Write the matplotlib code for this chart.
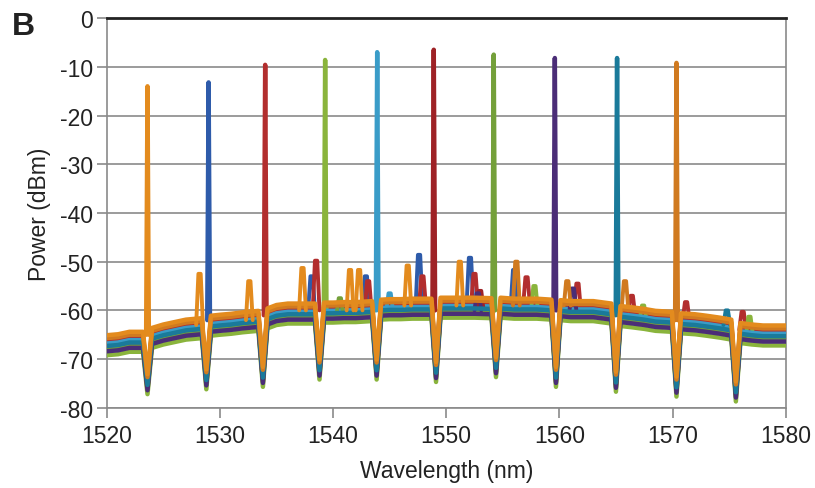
import matplotlib.pyplot as plt
import numpy as np

plt.rcParams['font.family'] = ['Liberation Sans', 'DejaVu Sans']
plt.rcParams['axes.unicode_minus'] = False

# shared noise floor of the spectra (nm, dBm), notches included
floor_wl = [1520, 1521, 1522, 1523.2, 1523.6, 1524.0, 1525, 1526, 1527, 1528.4,
            1528.8, 1529.2, 1530, 1531, 1532, 1533.4, 1533.8, 1534.2, 1535, 1536,
            1537, 1538.4, 1538.8, 1539.2, 1540, 1541, 1542, 1543.45, 1543.85, 1544.25,
            1545, 1546, 1547, 1548.7, 1549.1, 1549.5, 1550.5, 1551.5, 1552.5, 1554.0,
            1554.4, 1554.8, 1556, 1557, 1558, 1559.3, 1559.7, 1560.1, 1561, 1562,
            1563, 1564.6, 1565.0, 1565.4, 1566.5, 1567.5, 1568.5, 1569.95, 1570.35, 1570.75,
            1572, 1573, 1574.2, 1575.2, 1575.6, 1576.0, 1577, 1578, 1579, 1580]
floor_db = [-67, -66.8, -66.3, -66.3, -75, -65.5, -64.8, -64.3, -63.8, -63.5,
            -74, -63, -62.8, -62.6, -62.3, -62, -73.5, -61.5, -60.8, -60.5,
            -60.5, -60.5, -72, -60.3, -60.3, -60.2, -60.2, -60, -72, -59.7,
            -59.6, -59.6, -59.5, -59.5, -72.5, -59.3, -59.3, -59.3, -59.3, -59.4,
            -71.5, -59.3, -59.5, -59.5, -59.5, -59.7, -73.5, -59.8, -60, -60,
            -60, -60.5, -74.5, -61, -61.3, -61.6, -62, -62.2, -75.5, -62.5,
            -62.7, -63, -63.4, -63.8, -76.5, -64.5, -64.8, -65, -65, -65]

# one spectrum per channel
colors = ['#2E5BAA', '#B22E2E', '#8AB43C', '#3A9CC8', '#9E2226',
          '#74A03A', '#4B2D77', '#1A7A9A', '#D07A20', '#E38B1E']
offsets = [0.5, 0.9, -2.2, 0.2, -0.7, -1.1, -1.4, -0.3, 1.3, 1.9]
peak_wl = [1529.0, 1534.0, 1539.3, 1543.9, 1548.9, 1554.2, 1559.6, 1565.1, 1570.35, 1523.6]
peak_db = [-13.2, -9.6, -8.6, -7.0, -6.5, -7.5, -8.2, -8.2, -9.2, -14.0]
peak_base = [-62, -61, -61, -60, -60, -60, -60, -61, -62, -65]

# side modes: (wavelength, floor, top)
side_modes = [
    [(1538.1, -60, -53), (1542.9, -60, -53), (1547.6, -59, -48.6), (1552.1, -59, -49.2), (1556.0, -59, -51.7)],
    [(1538.5, -60, -49.8), (1543.1, -60, -54), (1547.9, -59, -53), (1552.5, -59, -52.5), (1557.1, -59, -53.2),
     (1561.6, -60, -54.5), (1566.4, -61, -57), (1571.2, -62, -58.3), (1576.2, -64, -60.3)],
    [(1557.8, -60, -55), (1567.4, -62, -59), (1576.8, -65, -61.3)],
    [(1545.0, -60, -56.5)],
    [(1553.0, -60, -56)],
    [(1540.6, -61, -57.5)],
    [(1552.8, -60, -56.5), (1561.2, -60, -55.5)],
    [(1574.8, -63, -60)],
    [(1556.2, -59, -50), (1560.7, -59, -54), (1565.8, -60, -54)],
    [(1528.2, -63, -52.5), (1532.6, -62, -54), (1537.3, -60, -51.3), (1541.5, -60, -51.7),
     (1542.3, -60, -51.7), (1546.6, -59, -50.8), (1551.2, -59, -50)],
]


def main():
    fig = plt.figure(figsize=(8.15, 4.89), dpi=100)
    ax = fig.add_axes([0.131, 0.164, 0.833, 0.797])

    fw = np.array(floor_wl)
    fd = np.array(floor_db)
    for i, c in enumerate(colors):
        ax.plot(fw, fd + offsets[i], color=c, lw=3.2, solid_joinstyle='round', zorder=3 + i)
        for w, b, t in side_modes[i]:
            ax.plot([w - 0.3, w - 0.1, w + 0.1, w + 0.3], [b, t, t, b], color=c, lw=2.8,
                    solid_joinstyle='round', solid_capstyle='round', zorder=3 + i)
        w = peak_wl[i]
        ax.plot([w - 0.12, w, w + 0.12], [peak_base[i], peak_db[i], peak_base[i]], color=c,
                lw=3.2, solid_joinstyle='round', solid_capstyle='round', zorder=3 + i)

    ax.set_xlim(1520, 1580)
    ax.set_ylim(-80, 0)
    ax.set_xticks(np.arange(1520, 1581, 10))
    ax.set_yticks(np.arange(-80, 1, 10))
    ax.yaxis.grid(True, color='#8a8a8a', lw=1.2)
    ax.set_axisbelow(True)
    for s in ['left', 'right', 'bottom']:
        ax.spines[s].set_color('#8a8a8a')
        ax.spines[s].set_linewidth(1.2)
    ax.spines['top'].set_color('#222222')
    ax.spines['top'].set_linewidth(2)
    ax.tick_params(axis='both', colors='#8a8a8a', labelcolor='#222222', labelsize=16.5,
                   length=7, width=1.2)
    ax.tick_params(axis='x', pad=5)
    ax.tick_params(axis='y', pad=3)
    ax.set_xlabel('Wavelength (nm)', fontsize=16.5, color='#222222', labelpad=8)
    ax.set_ylabel('Power (dBm)', fontsize=16.5, color='#222222', labelpad=6)
    fig.text(0.014, 0.928, 'B', fontsize=23, fontweight='bold', color='#222222')

    fig.savefig('out.png', dpi=100)


if __name__ == '__main__':
    main()
